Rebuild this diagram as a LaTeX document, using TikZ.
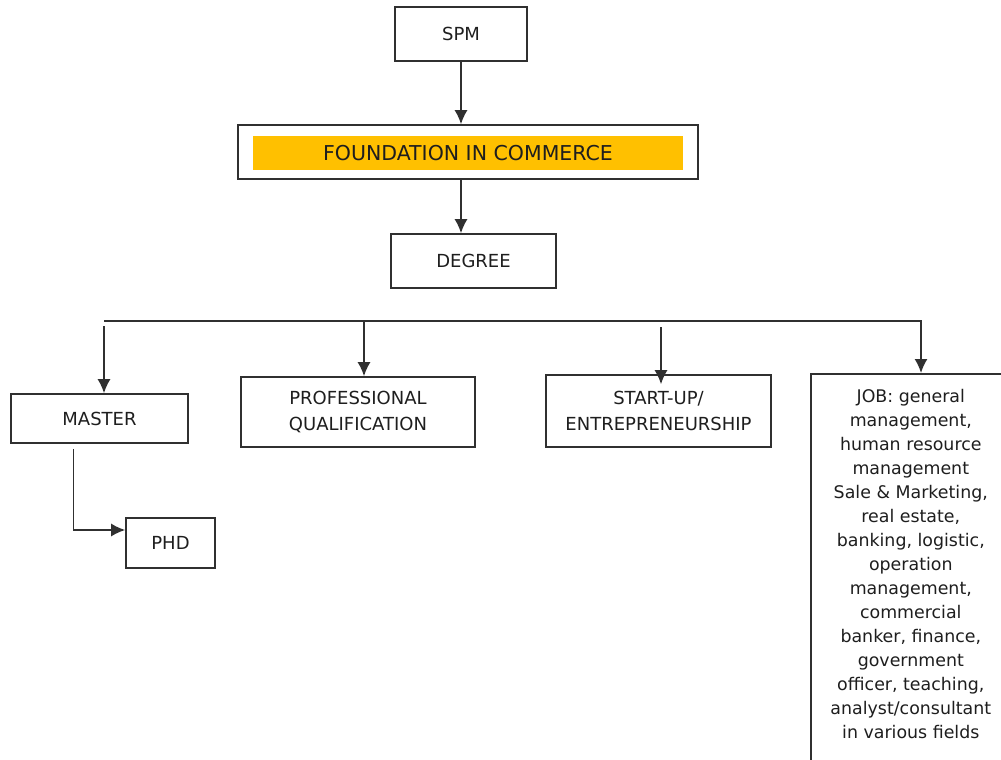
\documentclass[tikz,border=0pt]{standalone}
\usepackage{fontspec}
\setmainfont{DejaVu Sans}
\usetikzlibrary{arrows.meta,calc}
\definecolor{ficyellow}{HTML}{FFC000}
\definecolor{inkgray}{HTML}{1E1E1E}
\definecolor{linegray}{HTML}{303030}

\tikzset{
	box/.style={draw=linegray, line width=1.6pt, align=center, text=inkgray,
		font=\fontsize{18}{26}\selectfont, inner sep=0pt},
	arr/.style={draw=linegray, line width=1.6pt, -{Latex[length=14pt,width=13pt]}},
	bus/.style={draw=linegray, line width=1.6pt}
}

\begin{document}
\begin{tikzpicture}[x=1pt,y=-1pt]
		\useasboundingbox (0,0) rectangle (1001,760);
		\clip (0,0) rectangle (1001,760);
		\node[box, minimum width=132pt, minimum height=54pt] (spm) at (461,34) {SPM};
		\node[box, minimum width=460pt, minimum height=54pt] (found) at (468,152) {};
		\node[fill=ficyellow, text=inkgray, font=\fontsize{20.5}{25}\selectfont,
			minimum width=430pt, minimum height=34pt, inner sep=0pt] (foundlbl) at (468,153) {FOUNDATION IN COMMERCE};
		\node[box, minimum width=165pt, minimum height=54pt] (degree) at (473.5,261) {DEGREE};
%
		\node[box, minimum width=177pt, minimum height=49pt] (master) at (99.5,418.5) {MASTER};
		\node[box, minimum width=234pt, minimum height=70pt] (prof) at (358,412) {PROFESSIONAL\\QUALIFICATION};
		\node[box, minimum width=225pt, minimum height=72pt] (startup) at (658.5,411) {START-UP/\\ENTREPRENEURSHIP};
		\node[box, minimum width=89pt, minimum height=50pt] (phd) at (170.5,543) {PHD};
		\node[box, anchor=north west, inner xsep=0pt, inner ysep=15pt] (job) at (810,373)
			{\parbox[t][420pt][t]{200pt}{\centering\fontsize{17.4}{24}\selectfont
				JOB: general\\ management,\\ human resource\\ management\\ Sale \& Marketing,\\
				real estate,\\ banking, logistic,\\ operation\\ management,\\ commercial\\
				banker, finance,\\ government\\ officer, teaching,\\ analyst/consultant\\ in various fields}};
%
		\coordinate (busW) at (104,321);
		\coordinate (busE) at (922,321);
		\coordinate (b1) at (104,321);
		\coordinate (b2) at (364,321);
		\coordinate (b3) at (661,321);
		\coordinate (b4) at (921,321);
		\path[bus] (busW) -- (busE);
%
		\draw[arr] (spm) -- (spm |- found.north);
		\draw[arr] (spm |- found.south) -- (spm |- degree.north);
		\draw[arr] ($(b1)+(0,5)$) -- (b1 |- master.north);
		\draw[arr] (b2) -- (b2 |- prof.north);
		\draw[arr, shorten >=-10pt] ($(b3)+(0,6)$) -- (b3 |- startup.north);
		\draw[arr] (b4) -- (b4 |- job.north);
		\draw[arr] ([xshift=-26pt,yshift=-5pt]master.south) |- ([yshift=13pt]phd.west);
	\end{tikzpicture}
\end{document}
